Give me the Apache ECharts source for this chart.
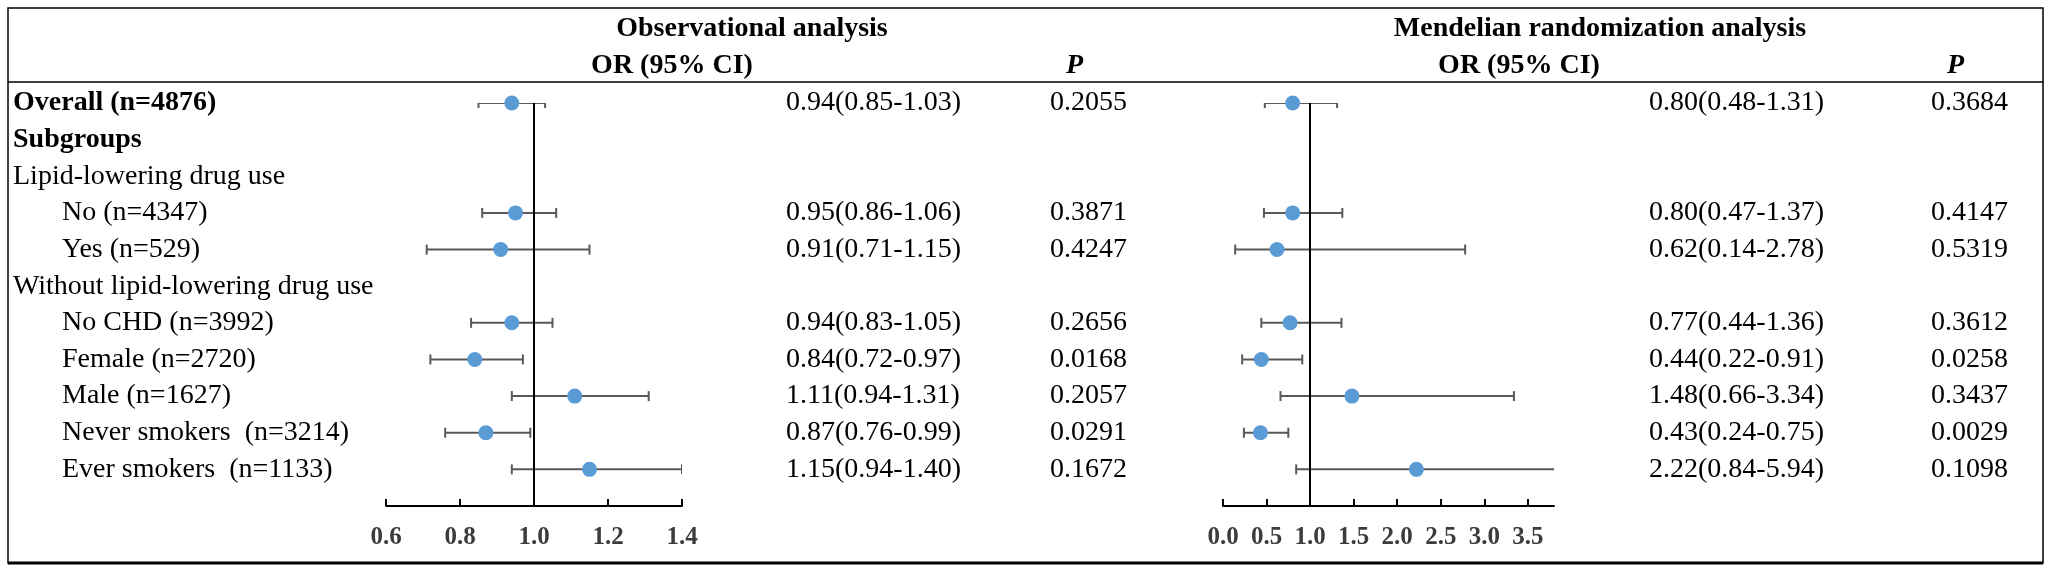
<!DOCTYPE html>
<html>
<head>
<meta charset="utf-8">
<script src="https://cdn.jsdelivr.net/npm/echarts@6/dist/echarts.min.js"></script>
<style>
  html, body { margin: 0; padding: 0; background: #fff; }
  #forest { width: 2054px; height: 575px; }
</style>
</head>
<body>
<div id="forest"></div>
<script>
// 行标签（最后一行留空，给坐标轴让位）
var rows = ['Overall (n=4876)', 'Subgroups', 'Lipid-lowering drug use', 'No (n=4347)', 'Yes (n=529)',
  'Without lipid-lowering drug use', 'No CHD (n=3992)', 'Female (n=2720)', 'Male (n=1627)',
  'Never smokers  (n=3214)', 'Ever smokers  (n=1133)', ''];
var boldRows = [0, 1];
var indentRows = [3, 4, 6, 7, 8, 9, 10];

// Observational analysis
var obsOR   = [0.94, null, null, 0.95, 0.91, null, 0.94, 0.84, 1.11, 0.87, 1.15];
var obsLow  = [0.85, null, null, 0.86, 0.71, null, 0.83, 0.72, 0.94, 0.76, 0.94];
var obsHigh = [1.03, null, null, 1.06, 1.15, null, 1.05, 0.97, 1.31, 0.99, 1.40];
var obsP    = [0.2055, null, null, 0.3871, 0.4247, null, 0.2656, 0.0168, 0.2057, 0.0291, 0.1672];

// Mendelian randomization analysis
var mrOR   = [0.80, null, null, 0.80, 0.62, null, 0.77, 0.44, 1.48, 0.43, 2.22];
var mrLow  = [0.48, null, null, 0.47, 0.14, null, 0.44, 0.22, 0.66, 0.24, 0.84];
var mrHigh = [1.31, null, null, 1.37, 2.78, null, 1.36, 0.91, 3.34, 0.75, 5.94];
var mrP    = [0.3684, null, null, 0.4147, 0.5319, null, 0.3612, 0.0258, 0.3437, 0.0029, 0.1098];

// 坐标轴刻度
var obsTicks = [0.6, 0.8, 1.0, 1.2, 1.4];
var mrTicks = [0.0, 0.5, 1.0, 1.5, 2.0, 2.5, 3.0, 3.5];

var FONT = 'Liberation Serif';

function ciText(or, lo, hi, i) {
    if (or[i] == null) return '';
    return or[i].toFixed(2) + '(' + lo[i].toFixed(2) + '-' + hi[i].toFixed(2) + ')';
}
function pText(p, i) {
    return p[i] == null ? '' : p[i].toFixed(4);
}
function points(or) {
    var out = [];
    or.forEach(function (v, i) { if (v != null) out.push([v, i]); });
    return out;
}
function bars(lo, hi) {
    var out = [];
    lo.forEach(function (v, i) { if (v != null) out.push([v, i, hi[i]]); });
    return out;
}

// 误差线
function errorBar(params, api) {
    var y = api.value(1);
    var a = api.coord([api.value(0), y]);
    var b = api.coord([api.value(2), y]);
    var h = 5;
    var st = { stroke: '#595959', lineWidth: 2 };
    return {
        type: 'group',
        children: [
            { type: 'line', shape: { x1: a[0], y1: a[1], x2: b[0], y2: b[1] }, style: st },
            { type: 'line', shape: { x1: a[0], y1: a[1] - h, x2: a[0], y2: a[1] + h }, style: st },
            { type: 'line', shape: { x1: b[0], y1: b[1] - h, x2: b[0], y2: b[1] + h }, style: st }
        ]
    };
}

function textAxis(grid, pos, offset, fmt) {
    return {
        gridIndex: grid,
        type: 'category',
        data: rows,
        inverse: true,
        boundaryGap: false,
        position: pos,
        offset: offset,
        axisLine: { show: false },
        axisTick: { show: false },
        splitLine: { show: false },
        axisLabel: {
            interval: 0,
            margin: 0,
            align: 'left',
            color: '#000',
            fontFamily: FONT,
            fontSize: 28,
            formatter: fmt
        }
    };
}

function valueAxis(grid, min, max, ticks) {
    return {
        gridIndex: grid,
        type: 'value',
        min: min,
        max: max,
        splitLine: { show: false },
        axisLine: { show: true, onZero: false, lineStyle: { color: '#000', width: 2 } },
        axisTick: { show: true, inside: true, length: 7, customValues: ticks, lineStyle: { color: '#000', width: 2 } },
        axisLabel: {
            customValues: ticks,
            margin: 19,
            color: '#3c3c3c',
            fontFamily: FONT,
            fontWeight: 'bold',
            fontSize: 25,
            formatter: function (v) { return v.toFixed(1); }
        }
    };
}

var labelAxis = textAxis(0, 'left', 373, function (v, i) {
    if (boldRows.indexOf(i) >= 0) return '{b|' + v + '}';
    if (indentRows.indexOf(i) >= 0) return '{i|' + v + '}';
    return '{n|' + v + '}';
});
labelAxis.axisLabel.inside = true;
labelAxis.axisLabel.rich = {
    b: { fontFamily: FONT, fontSize: 28, fontWeight: 'bold', color: '#000' },
    i: { fontFamily: FONT, fontSize: 28, color: '#000', padding: [0, 0, 0, 49] },
    n: { fontFamily: FONT, fontSize: 28, color: '#000' }
};

var refLine = {
    symbol: 'none',
    silent: true,
    label: { show: false },
    lineStyle: { color: '#000', width: 2, type: 'solid' },
    data: [{ xAxis: 1 }]
};

var myChart = echarts.init(document.getElementById('forest'));

var option = {
    backgroundColor: '#fff',
    animation: false,
    grid: [
        { left: 386, width: 296, top: 103, height: 403 },
        { left: 1223, width: 331, top: 103, height: 403 }
    ],
    xAxis: [
        valueAxis(0, 0.6, 1.4, obsTicks),
        valueAxis(1, 0, 3.8, mrTicks)
    ],
    yAxis: [
        labelAxis,
        textAxis(0, 'right', 104, function (v, i) { return ciText(obsOR, obsLow, obsHigh, i); }),
        textAxis(0, 'right', 368, function (v, i) { return pText(obsP, i); }),
        textAxis(1, 'right', 95, function (v, i) { return ciText(mrOR, mrLow, mrHigh, i); }),
        textAxis(1, 'right', 377, function (v, i) { return pText(mrP, i); })
    ],
    series: [
        {
            type: 'custom', xAxisIndex: 0, yAxisIndex: 0, clip: true,
            renderItem: errorBar, encode: { x: [0, 2], y: 1 },
            data: bars(obsLow, obsHigh), z: 2,
            markLine: refLine
        },
        {
            type: 'scatter', xAxisIndex: 0, yAxisIndex: 0,
            symbolSize: 15, itemStyle: { color: '#5b9bd5', opacity: 1 },
            data: points(obsOR), z: 3
        },
        {
            type: 'custom', xAxisIndex: 1, yAxisIndex: 3, clip: true,
            renderItem: errorBar, encode: { x: [0, 2], y: 1 },
            data: bars(mrLow, mrHigh), z: 2,
            markLine: refLine
        },
        {
            type: 'scatter', xAxisIndex: 1, yAxisIndex: 3,
            symbolSize: 15, itemStyle: { color: '#5b9bd5', opacity: 1 },
            data: points(mrOR), z: 3
        }
    ],
    graphic: [
        { type: 'rect', shape: { x: 8, y: 8, width: 2035, height: 555 }, style: { fill: 'none', stroke: '#000', lineWidth: 1.5 } },
        { type: 'line', shape: { x1: 8, y1: 563, x2: 2043, y2: 563 }, style: { stroke: '#000', lineWidth: 3 } },
        { type: 'line', shape: { x1: 8, y1: 82, x2: 2043, y2: 82 }, style: { stroke: '#000', lineWidth: 1.5 } },
        { type: 'text', style: { text: 'Observational analysis', x: 752, y: 29, textAlign: 'center', textVerticalAlign: 'middle', font: 'bold 28px "Liberation Serif"', fill: '#000' } },
        { type: 'text', style: { text: 'OR (95% CI)', x: 672, y: 66, textAlign: 'center', textVerticalAlign: 'middle', font: 'bold 28px "Liberation Serif"', fill: '#000' } },
        { type: 'text', style: { text: 'P', x: 1066, y: 66, textAlign: 'left', textVerticalAlign: 'middle', font: 'italic bold 28px "Liberation Serif"', fill: '#000' } },
        { type: 'text', style: { text: 'Mendelian randomization analysis', x: 1600, y: 29, textAlign: 'center', textVerticalAlign: 'middle', font: 'bold 28px "Liberation Serif"', fill: '#000' } },
        { type: 'text', style: { text: 'OR (95% CI)', x: 1519, y: 66, textAlign: 'center', textVerticalAlign: 'middle', font: 'bold 28px "Liberation Serif"', fill: '#000' } },
        { type: 'text', style: { text: 'P', x: 1947, y: 66, textAlign: 'left', textVerticalAlign: 'middle', font: 'italic bold 28px "Liberation Serif"', fill: '#000' } }
    ]
};

myChart.setOption(option);

window.onresize = function () {
    myChart.resize();
};
</script>
</body>
</html>
